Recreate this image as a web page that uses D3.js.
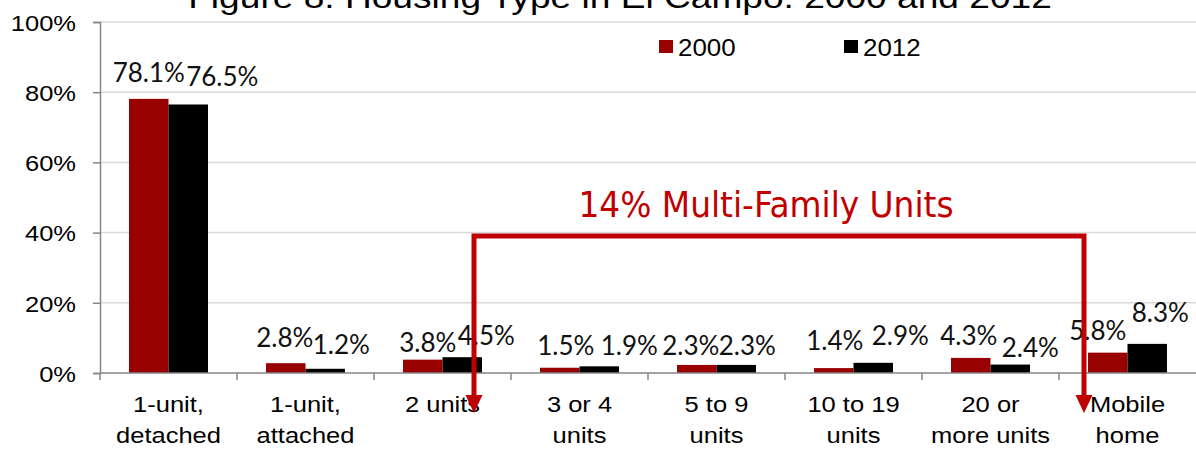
<!DOCTYPE html>
<html>
<head>
<meta charset="utf-8">
<script src="https://cdn.jsdelivr.net/npm/d3@7"></script>
<style>
  body { margin: 0; background: #fff; }
  svg { display: block; }
</style>
</head>
<body>
<svg></svg>
<script>
// data
const categories = ['1-unit,\ndetached', '1-unit,\nattached', '2 units', '3 or 4\nunits',
    '5 to 9\nunits', '10 to 19\nunits', '20 or\nmore units', 'Mobile\nhome'];
const series = ['2000', '2012'];
const values2000 = [78.1, 2.8, 3.8, 1.5, 2.3, 1.4, 4.3, 5.8];
const values2012 = [76.5, 1.2, 4.5, 1.9, 2.3, 2.9, 2.4, 8.3];
const yTicks = [0, 20, 40, 60, 80, 100];
const multiFamily = ['2 units', '3 or 4\nunits', '5 to 9\nunits', '10 to 19\nunits', '20 or\nmore units'];

// hand nudges for the value labels (they were moved in the original)
const labelNudge2000 = [[0, -17], [-1, -16], [5, -8], [6, -13], [-6, -10], [1, -18], [-2, -13], [-10, -13]];
const labelNudge2012 = [[34, -18], [16, -15], [24, -12], [30, -11], [11, -10], [27, -18], [20, -8], [13, -22]];

const width = 1196, height = 449;
const stretch = 1.16; // the original picture is stretched sideways
const red = '#990000', annoRed = '#c00000';

const svg = d3.select('svg').attr('width', width).attr('height', height);

const x = d3.scaleBand().domain(categories).range([100, 1196]);
const x1 = d3.scaleBand().domain(series).range([29, 108]);
const y = d3.scaleLinear().domain([0, 100]).range([373, 22]);

function stretchedText(g, px, py, txt, size, anchor) {
    return g.append('text')
        .attr('transform', `translate(${px},${py}) scale(${stretch},1)`)
        .attr('text-anchor', anchor || 'middle')
        .style('font-family', '"Liberation Sans", Arial, sans-serif')
        .style('font-size', size + 'px')
        .text(txt);
}

// title (its top is cut off in the original too)
stretchedText(svg, 620, 8, 'Figure 8: Housing Type in El Campo: 2000 and 2012', 32).attr('fill', '#000');

// gridlines
svg.append('g').selectAll('line')
    .data(yTicks.filter(d => d > 0))
    .enter().append('line')
    .attr('x1', 100).attr('x2', width)
    .attr('y1', d => y(d)).attr('y2', d => y(d))
    .attr('stroke', '#d9d9d9').attr('stroke-width', 1.5);

// y axis
const yAxis = svg.append('g')
    .attr('transform', 'translate(100,0)')
    .call(d3.axisLeft(y).tickValues(yTicks).tickSize(7).tickFormat(d => d + '%'));
yAxis.select('.domain').attr('stroke', '#868686').attr('stroke-width', 1.5);
yAxis.selectAll('.tick line').attr('stroke', '#868686').attr('stroke-width', 1.5);
yAxis.selectAll('.tick text')
    .attr('x', -24 / stretch).attr('dy', '0.38em')
    .attr('transform', `scale(${stretch},1)`)
    .attr('fill', '#000')
    .style('font-family', '"Liberation Sans", Arial, sans-serif')
    .style('font-size', '22px');

// bars
const rows = categories.map((c, i) => ({ cat: c, i: i, v: [values2000[i], values2012[i]] }));
const groups = svg.append('g').selectAll('g')
    .data(rows).enter().append('g')
    .attr('transform', d => `translate(${x(d.cat)},0)`);

groups.selectAll('rect')
    .data(d => series.map((s, k) => ({ s: s, v: d.v[k] })))
    .enter().append('rect')
    .attr('x', d => x1(d.s))
    .attr('y', d => y(d.v))
    .attr('width', x1.bandwidth())
    .attr('height', d => y(0) - y(d.v))
    .attr('fill', d => d.s === '2000' ? red : '#000');

// value labels
groups.selectAll('text.val')
    .data(d => series.map((s, k) => ({ s: s, v: d.v[k], n: (k ? labelNudge2012 : labelNudge2000)[d.i] })))
    .enter().append('text')
    .attr('class', 'val')
    .attr('x', d => x1(d.s) + x1.bandwidth() / 2 + d.n[0])
    .attr('y', d => y(d.v) + d.n[1])
    .attr('text-anchor', 'middle')
    .attr('fill', '#111')
    .style('font-family', 'Lato, sans-serif')
    .style('font-size', '26px')
    .text(d => d.v.toFixed(1) + '%');

// x axis line and ticks at category boundaries
svg.append('line')
    .attr('x1', 100).attr('x2', width)
    .attr('y1', y(0)).attr('y2', y(0))
    .attr('stroke', '#868686').attr('stroke-width', 1.5);
svg.append('g').selectAll('line')
    .data(categories.map(c => x(c)))
    .enter().append('line')
    .attr('x1', d => d).attr('x2', d => d)
    .attr('y1', y(0)).attr('y2', y(0) + 7)
    .attr('stroke', '#868686').attr('stroke-width', 1.5);

// category labels
categories.forEach(c => {
    c.split('\n').forEach((line, k) => {
        stretchedText(svg, x(c) + x.bandwidth() / 2, 412 + k * 31, line, 22).attr('fill', '#000');
    });
});

// legend
series.forEach((s, k) => {
    const lx = [659, 844][k];
    svg.append('rect')
        .attr('x', lx).attr('y', 40).attr('width', 14).attr('height', 13)
        .attr('fill', k ? '#000' : red);
    svg.append('text')
        .attr('transform', `translate(${lx + 19},56) scale(1.08,1)`)
        .style('font-family', '"Liberation Sans", Arial, sans-serif')
        .style('font-size', '24px')
        .text(s);
});

// multi-family bracket
const mfShare = d3.sum(multiFamily, c => values2012[categories.indexOf(c)]);
const bx0 = x('2 units') + 100;
const bx1 = x('Mobile\nhome') + 25;
const by = y(39);
const tipY = y(0) + 40;
const anno = svg.append('g');
anno.append('path')
    .attr('d', `M${bx0},${tipY - 16} V${by} H${bx1} V${tipY - 16}`)
    .attr('fill', 'none')
    .attr('stroke', annoRed)
    .attr('stroke-width', 5);
[bx0, bx1].forEach(ax => {
    anno.append('path')
        .attr('d', `M${ax - 8.5},${tipY - 18} L${ax + 8.5},${tipY - 18} L${ax},${tipY} Z`)
        .attr('fill', annoRed);
});
anno.append('text')
    .attr('x', 766).attr('y', 217)
    .attr('text-anchor', 'middle')
    .attr('textLength', 375)
    .attr('lengthAdjust', 'spacingAndGlyphs')
    .attr('fill', annoRed)
    .style('font-family', '"DejaVu Sans Condensed", "DejaVu Sans", sans-serif')
    .style('font-size', '36px')
    .text(d3.format('.0f')(mfShare) + '% Multi-Family Units');
</script>
</body>
</html>
